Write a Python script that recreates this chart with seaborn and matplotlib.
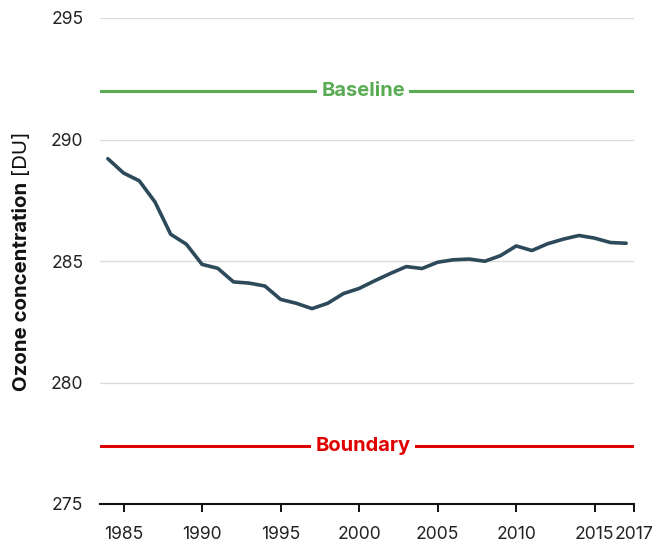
import matplotlib
matplotlib.use("Agg")
import matplotlib.pyplot as plt
import seaborn as sns
import pandas as pd

years = list(range(1984, 2018))
ozone = [289.21, 288.62, 288.30, 287.43, 286.10, 285.69, 284.86, 284.70,
         284.14, 284.09, 283.97, 283.42, 283.26, 283.04, 283.26, 283.66,
         283.87, 284.19, 284.49, 284.77, 284.69, 284.95, 285.05, 285.08,
         284.99, 285.22, 285.62, 285.43, 285.71, 285.90, 286.05, 285.94,
         285.76, 285.73]

baseline_value = 292.0
boundary_value = 277.4

x_ticks = [1985, 1990, 1995, 2000, 2005, 2010, 2015, 2017.5]
x_tick_labels = ["1985", "1990", "1995", "2000", "2005", "2010", "2015", "2017"]
y_ticks = [275, 280, 285, 290, 295]

sns.set_style("white")
plt.rcParams["font.family"] = ["Inter", "DejaVu Sans"]

df = pd.DataFrame({"year": years, "ozone": ozone})

fig = plt.figure(figsize=(6.72, 5.44), dpi=100)
ax = fig.add_axes([100 / 672, 1 - 504 / 544, 534 / 672, 486 / 544])

x_min, x_max = 1983.5, 2017.5
ax.set_xlim(x_min, x_max)
ax.set_ylim(275, 295)

# horizontal grid
for yv in y_ticks[1:]:
    ax.axhline(yv, color="#dcdcdc", lw=1.0, zorder=0)

# reference levels
green = "#5aac54"
red = "#e00000"
ax.axhline(baseline_value, color=green, lw=2.2, zorder=1)
ax.axhline(boundary_value, color=red, lw=2.2, zorder=1)
label_x = 2000.25
ax.text(label_x, baseline_value, "Baseline", color=green, fontsize=14.5,
        fontweight="bold", ha="center", va="center", zorder=3,
        bbox=dict(boxstyle="square,pad=0.2", fc="white", ec="none"))
ax.text(label_x, boundary_value, "Boundary", color=red, fontsize=14.5,
        fontweight="bold", ha="center", va="center", zorder=3,
        bbox=dict(boxstyle="square,pad=0.2", fc="white", ec="none"))

sns.lineplot(data=df, x="year", y="ozone", ax=ax, color="#2c4a5a",
             lw=2.6, zorder=4)

ax.set_xlabel("")
ax.set_ylabel("")
ax.set_xticks(x_ticks)
ax.set_xticklabels(x_tick_labels)
ax.set_yticks(y_ticks)
ax.tick_params(axis="x", length=6, width=1.4, color="#111111", pad=10,
               labelsize=12.6, labelcolor="#222222", bottom=True)
ax.tick_params(axis="y", length=0, pad=12, labelsize=12.6, labelcolor="#222222")

for side in ["left", "right", "top"]:
    ax.spines[side].set_visible(False)
ax.spines["bottom"].set_color("#111111")
ax.spines["bottom"].set_linewidth(1.5)

# y-axis title with a bold and a regular part
renderer = fig.canvas.get_renderer()
part1 = "Ozone concentration"
part2 = " [DU]"
fs_title = 14.7
t1 = fig.text(0, 0, part1, fontsize=fs_title, fontweight="bold")
t2 = fig.text(0, 0, part2, fontsize=fs_title)
w1 = t1.get_window_extent(renderer).width / fig.bbox.height
w2 = t2.get_window_extent(renderer).width / fig.bbox.height
t1.remove()
t2.remove()
yc = 1 - 261.5 / 544
y0 = yc - (w1 + w2) / 2
xl = 22 / 672
fig.text(xl, y0, part1, fontsize=fs_title, fontweight="bold", rotation=90,
         ha="center", va="bottom", color="#111111")
fig.text(xl, y0 + w1, part2, fontsize=fs_title, rotation=90,
         ha="center", va="bottom", color="#111111")

fig.savefig("out.png", dpi=100)
